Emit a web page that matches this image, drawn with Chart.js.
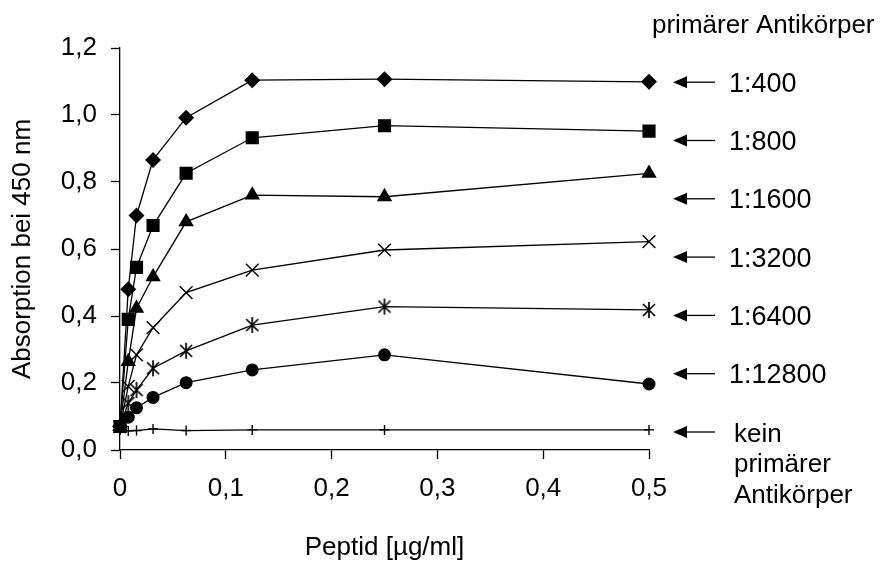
<!DOCTYPE html>
<html>
<head>
<meta charset="utf-8">
<script src="https://cdn.jsdelivr.net/npm/chart.js@4.4.1/dist/chart.umd.min.js"></script>
<style>
  html, body { margin: 0; padding: 0; background: #fff; }
  #elisa { display: block; }
</style>
</head>
<body>
<canvas id="elisa" width="884" height="561"></canvas>
<script>
// peptide concentration in µg/ml
const peptid = [0, 0.0078, 0.0156, 0.03125, 0.0625, 0.125, 0.25, 0.5];

// absorption at 450 nm, one array per dilution of the primary antibody
const abs400 = [0.07, 0.48, 0.70, 0.866, 0.992, 1.104, 1.107, 1.099];
const abs800 = [0.07, 0.39, 0.545, 0.67, 0.826, 0.932, 0.968, 0.952];
const abs1600 = [0.07, 0.264, 0.423, 0.517, 0.681, 0.761, 0.756, 0.826];
const abs3200 = [0.07, 0.19, 0.284, 0.365, 0.47, 0.537, 0.597, 0.622];
const abs6400 = [0.07, 0.14, 0.179, 0.244, 0.296, 0.373, 0.428, 0.418];
const abs12800 = [0.07, 0.098, 0.126, 0.157, 0.201, 0.239, 0.284, 0.197];
const absKein = [0.062, 0.057, 0.058, 0.063, 0.058, 0.06, 0.06, 0.06];

const dilutions = ["1:400", "1:800", "1:1600", "1:3200", "1:6400", "1:12800"];
const noPrimary = ["kein", "primärer", "Antikörper"];

const yTicks = [0, 0.2, 0.4, 0.6, 0.8, 1.0, 1.2];
const xTicks = [0, 0.1, 0.2, 0.3, 0.4, 0.5];

const FONT = "Liberation Sans, Arial, sans-serif";

// asterisk marker: vertical bar plus an X
const asterisk = document.createElement("canvas");
asterisk.width = 18;
asterisk.height = 18;
(function () {
  const c = asterisk.getContext("2d");
  c.strokeStyle = "#000";
  c.lineWidth = 1.7;
  c.beginPath();
  c.moveTo(9, 1); c.lineTo(9, 17);
  c.moveTo(3, 3); c.lineTo(15, 15);
  c.moveTo(15, 3); c.lineTo(3, 15);
  c.stroke();
})();

function pts(vals) {
  return vals.map((v, i) => ({ x: peptid[i], y: v }));
}

function series(label, vals, style, radius) {
  return {
    label: label,
    data: pts(vals),
    borderColor: "#000",
    backgroundColor: "#000",
    borderWidth: 1.3,
    pointStyle: style,
    pointRadius: radius,
    pointBorderWidth: 1.4,
    pointBackgroundColor: "#000",
    pointBorderColor: "#000",
    tension: 0,
    fill: false,
    clip: false,
  };
}

function comma(v, zeroPlain) {
  if (zeroPlain && Math.abs(v) < 1e-9) return "0";
  return v.toFixed(1).replace(".", ",");
}

const labelPlugin = {
  id: "labels",
  afterDraw(chart) {
    const ctx = chart.ctx;
    const area = chart.chartArea;
    ctx.save();
    ctx.fillStyle = "#000";
    ctx.strokeStyle = "#000";
    ctx.font = "26px " + FONT;
    ctx.textAlign = "left";
    ctx.textBaseline = "alphabetic";
    ctx.fillText("primärer Antikörper", area.right + 3, 33);

    ctx.font = "27px " + FONT;
    const tip = area.right + 24;
    const base = 91.7;
    const step = 58.3;
    for (let i = 0; i <= dilutions.length; i++) {
      const yc = base - 9.5 + i * step;
      ctx.lineWidth = 1.3;
      ctx.beginPath();
      ctx.moveTo(tip + 12, yc);
      ctx.lineTo(tip + 42, yc);
      ctx.stroke();
      ctx.beginPath();
      ctx.moveTo(tip, yc);
      ctx.lineTo(tip + 14, yc - 6);
      ctx.lineTo(tip + 14, yc + 6);
      ctx.closePath();
      ctx.fill();
      if (i < dilutions.length) {
        ctx.fillText(dilutions[i], area.right + 80, base + i * step);
      }
    }
    ctx.font = "26px " + FONT;
    noPrimary.forEach((t, j) => {
      ctx.fillText(t, area.right + 85, base + 6 * step + j * 30.5);
    });
    ctx.restore();
  },
};

new Chart(document.getElementById("elisa"), {
  type: "line",
  data: {
    datasets: [
      series("1:400", abs400, "rectRot", 7),
      series("1:800", abs800, "rect", 8.3),
      series("1:1600", abs1600, "triangle", 7.5),
      series("1:3200", abs3200, "crossRot", 9),
      series("1:6400", abs6400, asterisk, 9),
      series("1:12800", abs12800, "circle", 5.8),
      series("kein", absKein, "cross", 5),
    ],
  },
  options: {
    responsive: false,
    animation: false,
    layout: { padding: { left: 0, top: 48, right: 235, bottom: 0 } },
    plugins: {
      legend: { display: false },
      tooltip: { enabled: false },
    },
    scales: {
      x: {
        type: "linear",
        min: 0,
        max: 0.5,
        afterFit(s) { s.height = 111; },
        afterBuildTicks(s) { s.ticks = xTicks.map((v) => ({ value: v })); },
        grid: { drawOnChartArea: false, color: "#000", tickLength: 9, tickWidth: 1.3 },
        border: { color: "#000", width: 1.3 },
        ticks: {
          color: "#000",
          font: { family: FONT, size: 26 },
          padding: 14,
          maxRotation: 0,
          callback: (v) => comma(v, true),
        },
        title: {
          display: true,
          text: "Peptid [µg/ml]",
          color: "#000",
          font: { family: FONT, size: 26, lineHeight: 1 },
          padding: { top: 0, bottom: 0 },
        },
      },
      y: {
        type: "linear",
        min: 0,
        max: 1.2,
        afterFit(s) { s.width = 120; },
        afterBuildTicks(s) { s.ticks = yTicks.map((v) => ({ value: v })); },
        grid: { drawOnChartArea: false, color: "#000", tickLength: 9, tickWidth: 1.3 },
        border: { color: "#000", width: 1.3 },
        ticks: {
          color: "#000",
          font: { family: FONT, size: 26 },
          padding: 14,
          callback: (v) => comma(v, false),
        },
        title: {
          display: true,
          text: "Absorption bei 450 nm",
          color: "#000",
          font: { family: FONT, size: 26, lineHeight: 1 },
          padding: { top: 10, bottom: 0 },
        },
      },
    },
  },
  plugins: [labelPlugin],
});
</script>
</body>
</html>
